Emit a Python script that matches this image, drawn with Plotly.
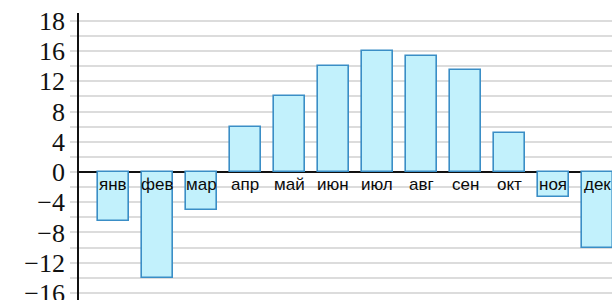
import plotly.graph_objects as go

months = ["янв", "фев", "мар", "апр", "май", "июн", "июл", "авг", "сен", "окт", "ноя", "дек"]
temps = [-6.5, -14, -5, 6, 10, 14, 16, 15.3, 13.5, 5.2, -3.3, -10]

tick_vals = [20, 18, 16, 14, 12, 10, 8, 6, 4, 2, 0, -2, -4, -6, -8, -10, -12, -14, -16]
tick_text = ["18", "", "16", "", "12", "", "8", "", "4", "", "0", "", "−4", "", "−8", "", "−12", "", "−16"]

fig = go.Figure()
fig.add_trace(go.Bar(
    x=months, y=temps, width=0.705,
    marker=dict(color="#c2f1fc", line=dict(color="#3a8ec6", width=1.6)),
    hoverinfo="skip",
))

for m in months:
    fig.add_annotation(x=m, y=0, text=m, showarrow=False, yanchor="top", yshift=-1,
                       font=dict(family="Liberation Sans", size=17, color="#0a0a0a"))

fig.update_layout(
    width=612, height=300,
    margin=dict(l=79, r=0, t=13, b=0, autoexpand=False),
    plot_bgcolor="white", paper_bgcolor="white",
    showlegend=False,
    bargap=0,
    xaxis=dict(range=[-0.777, 11.34], showticklabels=False, showgrid=False,
               zeroline=False, showline=False, ticks="", automargin=False),
    yaxis=dict(range=[-16.93, 21.03], tickvals=tick_vals, ticktext=tick_text,
               automargin=False, ticklabeloverflow="allow",
               showgrid=True, gridcolor="#dcdcdc", gridwidth=1.5,
               ticks="outside", ticklen=7, tickcolor="#dcdcdc", tickwidth=1.5,
               showline=True, linecolor="#111", linewidth=1.6,
               zeroline=True, zerolinecolor="#111", zerolinewidth=2,
               tickfont=dict(family="Liberation Serif", size=26, color="#111")),
)

fig.write_html(
    "out.html",
    config={"displayModeBar": False},
    post_script="document.body.style.margin='0';document.body.style.overflow='hidden';",
)
